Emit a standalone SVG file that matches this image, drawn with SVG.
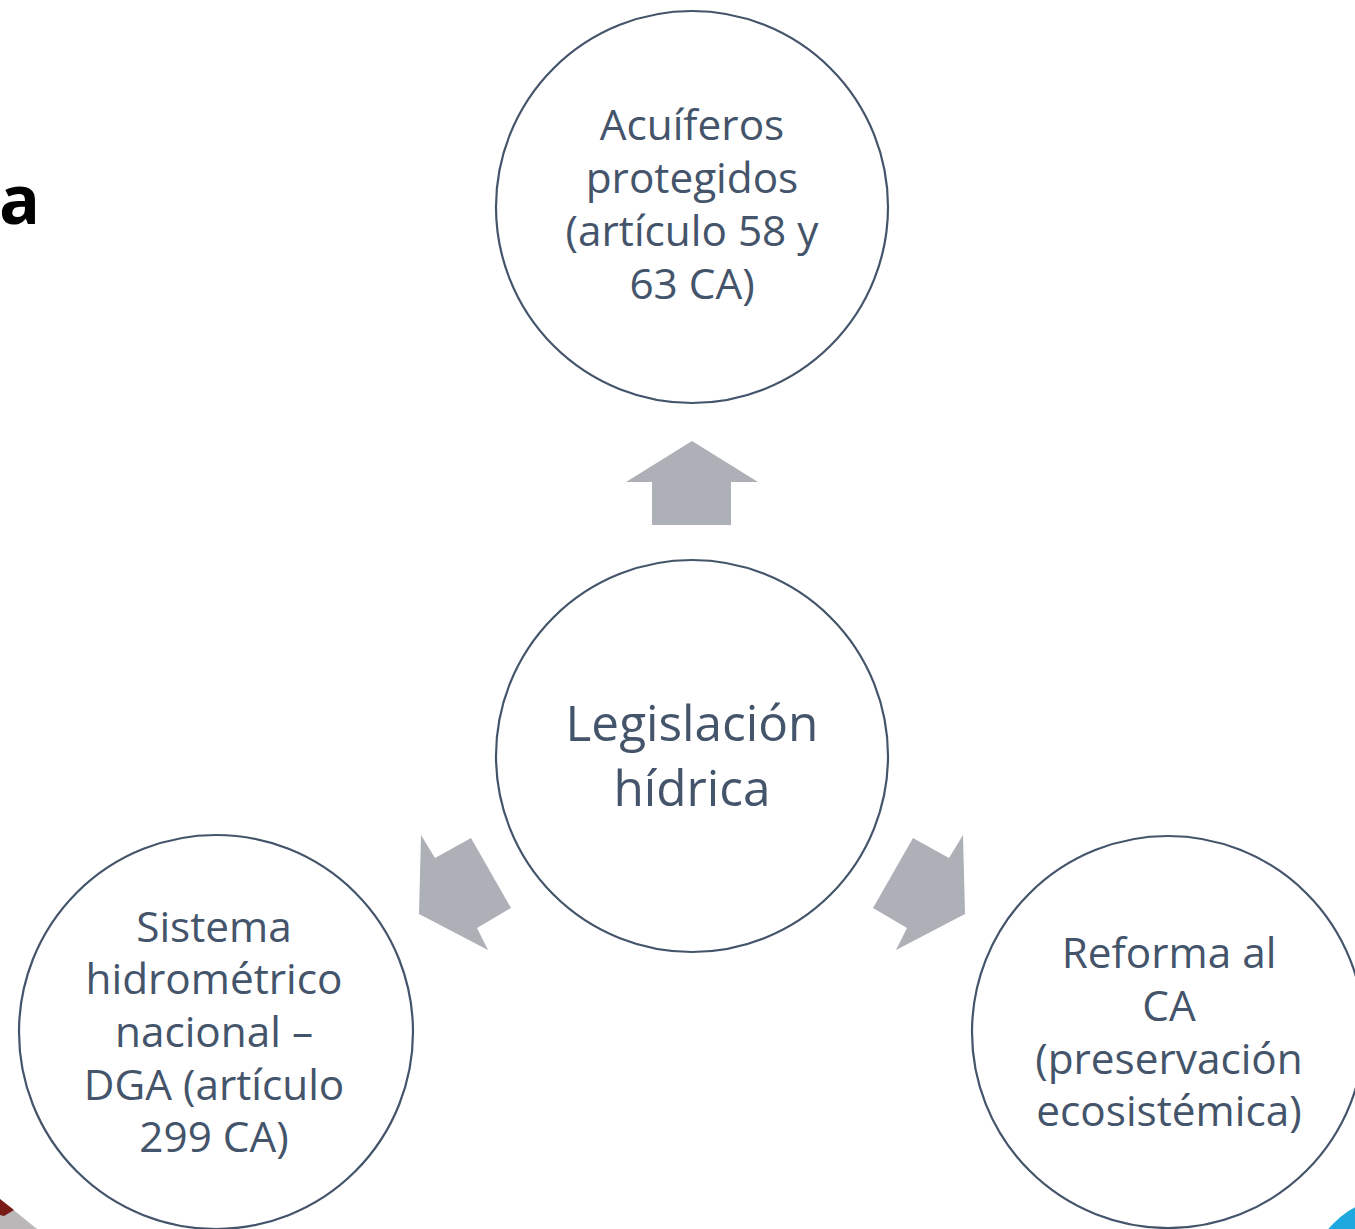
<svg xmlns="http://www.w3.org/2000/svg" width="1355" height="1229" viewBox="0 0 1355 1229">
  <style>
    .node { fill: #ffffff; stroke: #44546a; stroke-width: 2.2; }
    .lbl { font-family: "Open Sans", "Noto Sans", sans-serif; fill: #44546a; text-anchor: middle; }
    .sm { font-size: 42.3px; }
    .lg { font-size: 49.5px; }
    .arrow { fill: #adb0b7; }
  </style>
  <rect width="1355" height="1229" fill="#ffffff"/>
  <!-- background fragments -->
  <text x="40" y="224" font-family="'Open Sans', 'Liberation Sans', sans-serif" font-weight="bold" font-size="68" fill="#000000" text-anchor="end">ca</text>
  <polygon points="0,1199 37,1229 0,1229" fill="#b9b7b8"/>
  <polygon points="0,1199 14,1210 4,1216 0,1215" fill="#7a1c16"/>
  <circle cx="1402" cy="1292" r="97" fill="#1ea8e0"/>

  <g id="connectors">
    <polygon class="arrow" points="692,441 758,482 731,482 731,525 652,525 652,482 626,482"/>
    <polygon class="arrow" points="421,835 435,858 471,838 511,908 477,928 488,950 419,914"/>
    <polygon class="arrow" points="963,835 949,858 913,838 873,908 907,928 896,950 965,914"/>
  </g>

  <g id="node-top">
    <circle class="node" cx="692" cy="207" r="196"/>
    <text class="lbl sm" x="692" y="140">Acuíferos</text>
    <text class="lbl sm" x="692" y="193">protegidos</text>
    <text class="lbl sm" x="692" y="246">(artículo 58 y</text>
    <text class="lbl sm" x="692" y="299">63 CA)</text>
  </g>

  <g id="node-center">
    <circle class="node" cx="692" cy="756" r="196"/>
    <text class="lbl lg" x="692" y="741">Legislación</text>
    <text class="lbl lg" x="692" y="806">hídrica</text>
  </g>

  <g id="node-left">
    <circle class="node" cx="216" cy="1032" r="197"/>
    <text class="lbl sm" x="214" y="942">Sistema</text>
    <text class="lbl sm" x="214" y="994">hidrométrico</text>
    <text class="lbl sm" x="214" y="1047">nacional –</text>
    <text class="lbl sm" x="214" y="1100">DGA (artículo</text>
    <text class="lbl sm" x="214" y="1152">299 CA)</text>
  </g>

  <g id="node-right">
    <circle class="node" cx="1168" cy="1032" r="196"/>
    <text class="lbl sm" x="1169" y="968">Reforma al</text>
    <text class="lbl sm" x="1169" y="1021">CA</text>
    <text class="lbl sm" x="1169" y="1074">(preservación</text>
    <text class="lbl sm" x="1169" y="1126">ecosistémica)</text>
  </g>
</svg>
